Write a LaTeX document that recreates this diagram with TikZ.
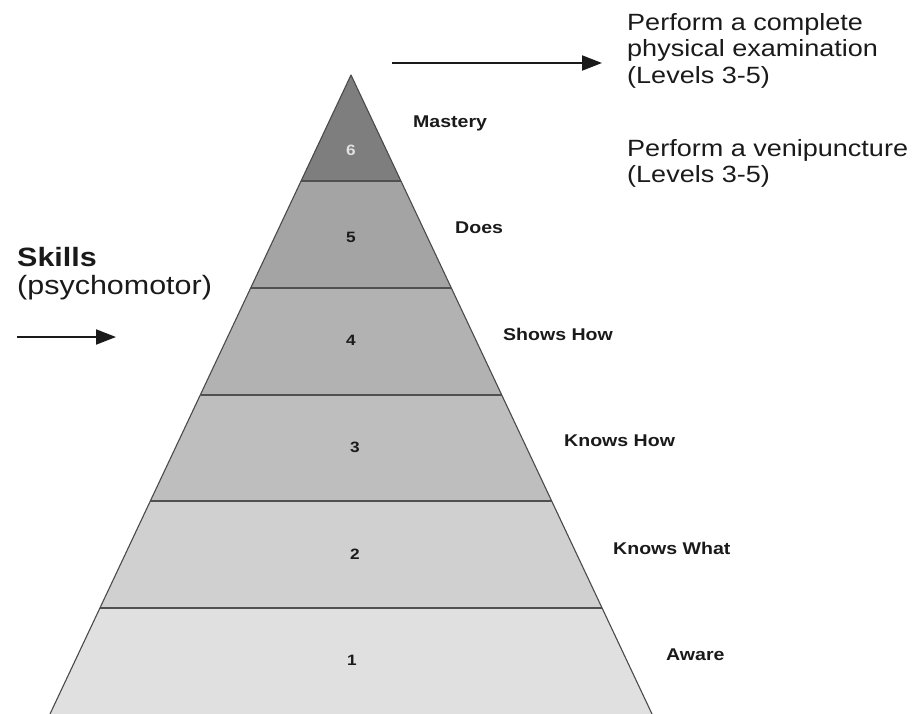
\documentclass[tikz,border=0pt]{standalone}
\usepackage{fontspec}
\setmainfont[FakeStretch=1.15]{Liberation Sans}
\usetikzlibrary{arrows.meta, calc, positioning}
\definecolor{Ink}{HTML}{1A1A1A}
\definecolor{Edge}{HTML}{4A4A4A}
\definecolor{Divider}{HTML}{505050}
\definecolor{LevelOne}{HTML}{E0E0E0}
\definecolor{LevelTwo}{HTML}{D0D0D0}
\definecolor{LevelThree}{HTML}{BEBEBE}
\definecolor{LevelFour}{HTML}{B2B2B2}
\definecolor{LevelFive}{HTML}{A4A4A4}
\definecolor{LevelSix}{HTML}{7E7E7E}
\tikzset{
  outline/.style={draw=Edge, line width=1.1pt, line join=round},
  divider/.style={draw=Divider, line width=2pt},
  pointer/.style={-{Triangle[length=20pt, width=15pt]}, line width=2pt, color=Ink},
  levelnum/.style={font=\bfseries\fontsize{15}{15}\selectfont, color=Ink, inner sep=0pt},
  levelname/.style={font=\bfseries\fontsize{17}{17}\selectfont, color=Ink, anchor=west, inner sep=0pt},
  note/.style={font=\fontsize{23.5}{26.5}\selectfont, color=Ink, align=left, anchor=north west, inner sep=0pt},
}

\begin{document}
\begin{tikzpicture}[x=1pt, y=-1pt]
  \useasboundingbox (0,0) rectangle (913,713);
  \coordinate (apex) at (351,75);
  \coordinate (baseL) at (50,714);
  \coordinate (baseR) at (652,714);

  % layers, top to bottom
  \foreach \k/\shade [evaluate=\k as \tA using (\k-1)/6, evaluate=\k as \tB using \k/6]
    in {1/LevelSix, 2/LevelFive, 3/LevelFour, 4/LevelThree, 5/LevelTwo, 6/LevelOne}{
    \fill[\shade] ($(apex)!\tA!(baseL)$) -- ($(apex)!\tB!(baseL)$)
      -- ($(apex)!\tB!(baseR)$) -- ($(apex)!\tA!(baseR)$) -- cycle;
  }
  \foreach \k [evaluate=\k as \tB using \k/6] in {1,...,5}{
    \draw[divider] ($(apex)!\tB!(baseL)$) -- ($(apex)!\tB!(baseR)$);
  }
  \draw[outline] (baseL) -- (apex) -- (baseR);

  \node[levelnum, color=LevelOne] (num6) at (351,150) {6};
  \node[levelnum] (num5) at (351,237) {5};
  \node[levelnum] (num4) at (351,340) {4};
  \node[levelnum] (num3) at (355,447) {3};
  \node[levelnum] (num2) at (355,554) {2};
  \node[levelnum] (num1) at (352,660) {1};

  \node[levelname] (mastery) at (413,123) {Mastery};
  \node[levelname] (does) at (455,228) {Does};
  \node[levelname] (showshow) at (503,334) {Shows How};
  \node[levelname] (knowshow) at (564,441) {Knows How};
  \node[levelname] (knowswhat) at (613,548) {Knows What};
  \node[levelname] (aware) at (666,655) {Aware};

  % right hand notes
  \node[note] (exam) at (627,13) {Perform a complete\\physical examination\\(Levels 3-5)};
  \node[note] (veni) at (627,139) {Perform a venipuncture\\(Levels 3-5)};
  \coordinate (examtail) at (392,63);
  \coordinate (examtip) at (602,63);
  \draw[pointer] (examtail) -- (examtip);

  % left hand note
  \node[note, font=\fontsize{26.5}{28}\selectfont] (skills) at (17,247) {\textbf{Skills}\\(psychomotor)};
  \coordinate (skillstail) at (17,337);
  \coordinate (skillstip) at (116,337);
  \draw[pointer] (skillstail) -- (skillstip);
\end{tikzpicture}
\end{document}
